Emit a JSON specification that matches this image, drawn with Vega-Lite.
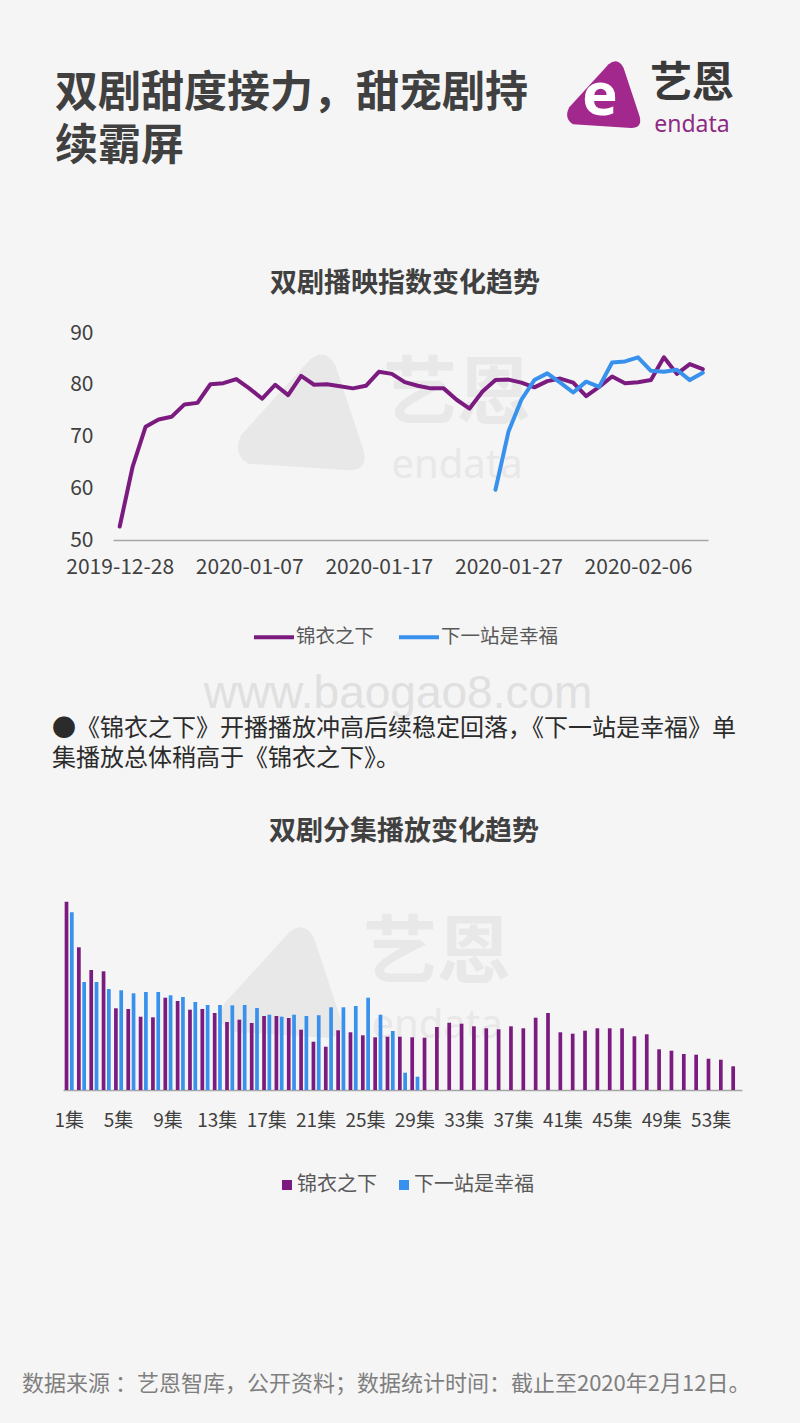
{
  "$schema": "https://vega.github.io/schema/vega-lite/v6.json",
  "background": "#f5f5f5",
  "padding": 0,
  "spacing": 0,
  "bounds": "flush",
  "center": true,
  "resolve": {"scale": {"color": "independent"}, "legend": {"color": "independent"}},
  "config": {
    "font": "Noto Sans CJK SC",
    "view": {"stroke": null},
    "axis": {"grid": false},
    "title": {"color": "#404040"}
  },
  "datasets": {
    "lines": [
      {"date": "2019-12-28", "series": "锦衣之下", "index": 52.6},
      {"date": "2019-12-29", "series": "锦衣之下", "index": 64.2},
      {"date": "2019-12-30", "series": "锦衣之下", "index": 71.9},
      {"date": "2019-12-31", "series": "锦衣之下", "index": 73.3},
      {"date": "2020-01-01", "series": "锦衣之下", "index": 73.8},
      {"date": "2020-01-02", "series": "锦衣之下", "index": 76.2},
      {"date": "2020-01-03", "series": "锦衣之下", "index": 76.5},
      {"date": "2020-01-04", "series": "锦衣之下", "index": 80.1},
      {"date": "2020-01-05", "series": "锦衣之下", "index": 80.3},
      {"date": "2020-01-06", "series": "锦衣之下", "index": 81.1},
      {"date": "2020-01-07", "series": "锦衣之下", "index": 79.3},
      {"date": "2020-01-08", "series": "锦衣之下", "index": 77.3},
      {"date": "2020-01-09", "series": "锦衣之下", "index": 80.0},
      {"date": "2020-01-10", "series": "锦衣之下", "index": 78.0},
      {"date": "2020-01-11", "series": "锦衣之下", "index": 81.7},
      {"date": "2020-01-12", "series": "锦衣之下", "index": 80.0},
      {"date": "2020-01-13", "series": "锦衣之下", "index": 80.1},
      {"date": "2020-01-14", "series": "锦衣之下", "index": 79.7},
      {"date": "2020-01-15", "series": "锦衣之下", "index": 79.3},
      {"date": "2020-01-16", "series": "锦衣之下", "index": 79.8},
      {"date": "2020-01-17", "series": "锦衣之下", "index": 82.5},
      {"date": "2020-01-18", "series": "锦衣之下", "index": 82.1},
      {"date": "2020-01-19", "series": "锦衣之下", "index": 80.5},
      {"date": "2020-01-20", "series": "锦衣之下", "index": 79.8},
      {"date": "2020-01-21", "series": "锦衣之下", "index": 79.3},
      {"date": "2020-01-22", "series": "锦衣之下", "index": 79.3},
      {"date": "2020-01-23", "series": "锦衣之下", "index": 77.1},
      {"date": "2020-01-24", "series": "锦衣之下", "index": 75.4},
      {"date": "2020-01-25", "series": "锦衣之下", "index": 78.7},
      {"date": "2020-01-26", "series": "锦衣之下", "index": 80.9},
      {"date": "2020-01-27", "series": "锦衣之下", "index": 81.0},
      {"date": "2020-01-28", "series": "锦衣之下", "index": 80.4},
      {"date": "2020-01-29", "series": "锦衣之下", "index": 79.5},
      {"date": "2020-01-30", "series": "锦衣之下", "index": 80.7},
      {"date": "2020-01-31", "series": "锦衣之下", "index": 81.2},
      {"date": "2020-02-01", "series": "锦衣之下", "index": 80.4},
      {"date": "2020-02-02", "series": "锦衣之下", "index": 77.8},
      {"date": "2020-02-03", "series": "锦衣之下", "index": 79.6},
      {"date": "2020-02-04", "series": "锦衣之下", "index": 81.6},
      {"date": "2020-02-05", "series": "锦衣之下", "index": 80.3},
      {"date": "2020-02-06", "series": "锦衣之下", "index": 80.5},
      {"date": "2020-02-07", "series": "锦衣之下", "index": 80.9},
      {"date": "2020-02-08", "series": "锦衣之下", "index": 85.3},
      {"date": "2020-02-09", "series": "锦衣之下", "index": 82.1},
      {"date": "2020-02-10", "series": "锦衣之下", "index": 84.0},
      {"date": "2020-02-11", "series": "锦衣之下", "index": 83.0},
      {"date": "2020-01-26", "series": "下一站是幸福", "index": 59.7},
      {"date": "2020-01-27", "series": "下一站是幸福", "index": 70.9},
      {"date": "2020-01-28", "series": "下一站是幸福", "index": 77.1},
      {"date": "2020-01-29", "series": "下一站是幸福", "index": 80.9},
      {"date": "2020-01-30", "series": "下一站是幸福", "index": 82.2},
      {"date": "2020-01-31", "series": "下一站是幸福", "index": 80.4},
      {"date": "2020-02-01", "series": "下一站是幸福", "index": 78.5},
      {"date": "2020-02-02", "series": "下一站是幸福", "index": 80.6},
      {"date": "2020-02-03", "series": "下一站是幸福", "index": 79.6},
      {"date": "2020-02-04", "series": "下一站是幸福", "index": 84.3},
      {"date": "2020-02-05", "series": "下一站是幸福", "index": 84.5},
      {"date": "2020-02-06", "series": "下一站是幸福", "index": 85.3},
      {"date": "2020-02-07", "series": "下一站是幸福", "index": 82.7},
      {"date": "2020-02-08", "series": "下一站是幸福", "index": 82.5},
      {"date": "2020-02-09", "series": "下一站是幸福", "index": 82.9},
      {"date": "2020-02-10", "series": "下一站是幸福", "index": 80.9},
      {"date": "2020-02-11", "series": "下一站是幸福", "index": 82.3}
    ],
    "bars": [
      {"episode": "1集", "series": "锦衣之下", "plays": 188.3},
      {"episode": "1集", "series": "下一站是幸福", "plays": 177.7},
      {"episode": "2集", "series": "锦衣之下", "plays": 142.7},
      {"episode": "2集", "series": "下一站是幸福", "plays": 108},
      {"episode": "3集", "series": "锦衣之下", "plays": 120},
      {"episode": "3集", "series": "下一站是幸福", "plays": 108},
      {"episode": "4集", "series": "锦衣之下", "plays": 118.7},
      {"episode": "4集", "series": "下一站是幸福", "plays": 101},
      {"episode": "5集", "series": "锦衣之下", "plays": 81.7},
      {"episode": "5集", "series": "下一站是幸福", "plays": 99.7},
      {"episode": "6集", "series": "锦衣之下", "plays": 81},
      {"episode": "6集", "series": "下一站是幸福", "plays": 96.7},
      {"episode": "7集", "series": "锦衣之下", "plays": 73.3},
      {"episode": "7集", "series": "下一站是幸福", "plays": 98},
      {"episode": "8集", "series": "锦衣之下", "plays": 72.7},
      {"episode": "8集", "series": "下一站是幸福", "plays": 98},
      {"episode": "9集", "series": "锦衣之下", "plays": 92.3},
      {"episode": "9集", "series": "下一站是幸福", "plays": 94.7},
      {"episode": "10集", "series": "锦衣之下", "plays": 89},
      {"episode": "10集", "series": "下一站是幸福", "plays": 93},
      {"episode": "11集", "series": "锦衣之下", "plays": 80.3},
      {"episode": "11集", "series": "下一站是幸福", "plays": 88},
      {"episode": "12集", "series": "锦衣之下", "plays": 81},
      {"episode": "12集", "series": "下一站是幸福", "plays": 85},
      {"episode": "13集", "series": "锦衣之下", "plays": 77},
      {"episode": "13集", "series": "下一站是幸福", "plays": 85},
      {"episode": "14集", "series": "锦衣之下", "plays": 68},
      {"episode": "14集", "series": "下一站是幸福", "plays": 84.7},
      {"episode": "15集", "series": "锦衣之下", "plays": 70.3},
      {"episode": "15集", "series": "下一站是幸福", "plays": 85},
      {"episode": "16集", "series": "锦衣之下", "plays": 67},
      {"episode": "16集", "series": "下一站是幸福", "plays": 82},
      {"episode": "17集", "series": "锦衣之下", "plays": 74},
      {"episode": "17集", "series": "下一站是幸福", "plays": 75.3},
      {"episode": "18集", "series": "锦衣之下", "plays": 74},
      {"episode": "18集", "series": "下一站是幸福", "plays": 73.3},
      {"episode": "19集", "series": "锦衣之下", "plays": 72},
      {"episode": "19集", "series": "下一站是幸福", "plays": 75.3},
      {"episode": "20集", "series": "锦衣之下", "plays": 60.3},
      {"episode": "20集", "series": "下一站是幸福", "plays": 74},
      {"episode": "21集", "series": "锦衣之下", "plays": 48.3},
      {"episode": "21集", "series": "下一站是幸福", "plays": 74.7},
      {"episode": "22集", "series": "锦衣之下", "plays": 43.3},
      {"episode": "22集", "series": "下一站是幸福", "plays": 82.7},
      {"episode": "23集", "series": "锦衣之下", "plays": 59.7},
      {"episode": "23集", "series": "下一站是幸福", "plays": 82.7},
      {"episode": "24集", "series": "锦衣之下", "plays": 57.7},
      {"episode": "24集", "series": "下一站是幸福", "plays": 84},
      {"episode": "25集", "series": "锦衣之下", "plays": 54.7},
      {"episode": "25集", "series": "下一站是幸福", "plays": 92.3},
      {"episode": "26集", "series": "锦衣之下", "plays": 52.7},
      {"episode": "26集", "series": "下一站是幸福", "plays": 75.3},
      {"episode": "27集", "series": "锦衣之下", "plays": 53.3},
      {"episode": "27集", "series": "下一站是幸福", "plays": 59},
      {"episode": "28集", "series": "锦衣之下", "plays": 53.3},
      {"episode": "28集", "series": "下一站是幸福", "plays": 17.3},
      {"episode": "29集", "series": "锦衣之下", "plays": 52.7},
      {"episode": "29集", "series": "下一站是幸福", "plays": 13.3},
      {"episode": "30集", "series": "锦衣之下", "plays": 52.3},
      {"episode": "31集", "series": "锦衣之下", "plays": 63},
      {"episode": "32集", "series": "锦衣之下", "plays": 67.3},
      {"episode": "33集", "series": "锦衣之下", "plays": 66.3},
      {"episode": "34集", "series": "锦衣之下", "plays": 63.7},
      {"episode": "35集", "series": "锦衣之下", "plays": 61.7},
      {"episode": "36集", "series": "锦衣之下", "plays": 60.7},
      {"episode": "37集", "series": "锦衣之下", "plays": 63.7},
      {"episode": "38集", "series": "锦衣之下", "plays": 61.7},
      {"episode": "39集", "series": "锦衣之下", "plays": 72.3},
      {"episode": "40集", "series": "锦衣之下", "plays": 77},
      {"episode": "41集", "series": "锦衣之下", "plays": 57.7},
      {"episode": "42集", "series": "锦衣之下", "plays": 56.3},
      {"episode": "43集", "series": "锦衣之下", "plays": 59.3},
      {"episode": "44集", "series": "锦衣之下", "plays": 61.7},
      {"episode": "45集", "series": "锦衣之下", "plays": 61.7},
      {"episode": "46集", "series": "锦衣之下", "plays": 61.7},
      {"episode": "47集", "series": "锦衣之下", "plays": 53.7},
      {"episode": "48集", "series": "锦衣之下", "plays": 55.7},
      {"episode": "49集", "series": "锦衣之下", "plays": 40.7},
      {"episode": "50集", "series": "锦衣之下", "plays": 39.3},
      {"episode": "51集", "series": "锦衣之下", "plays": 36},
      {"episode": "52集", "series": "锦衣之下", "plays": 35.3},
      {"episode": "53集", "series": "锦衣之下", "plays": 31.3},
      {"episode": "54集", "series": "锦衣之下", "plays": 30.3},
      {"episode": "55集", "series": "锦衣之下", "plays": 23.7}
    ]
  },
  "vconcat": [
    {
      "width": 800,
      "height": 333,
      "title": {"text": ["双剧甜度接力，甜宠剧持", "续霸屏"], "orient": "top", "anchor": "start", "frame": "group", "dx": 55, "offset": -169, "fontSize": 43, "fontWeight": "bold", "lineHeight": 53, "color": "#404040"},
      "layer": [
        {"data": {"values": [{"brand": "endata"}]}, "mark": {"type": "point", "shape": "M 4.613 -1.13 Q 4.363 -1.28 4.513 -1.58 L 5.563 -2.73 Q 5.813 -2.93 5.963 -2.63 L 6.393 -1.33 Q 6.463 -1.03 6.163 -1.03 Z", "size": 5625, "filled": true, "color": "#a3288e", "opacity": 1, "strokeWidth": 0}, "encoding": {}},
        {"data": {"values": [{"brand": "endata"}]}, "mark": {"type": "text", "text": "e", "font": "Noto Sans", "fontWeight": "bold", "fontSize": 60, "color": "#ffffff", "dx": 200, "dy": -70, "baseline": "middle", "align": "center"}, "encoding": {}},
        {"data": {"values": [{"brand": "endata"}]}, "mark": {"type": "text", "text": "艺恩", "fontSize": 42, "fontWeight": "bold", "color": "#3a3a3a", "dx": 292, "dy": -83, "baseline": "middle", "align": "center"}, "encoding": {}},
        {"data": {"values": [{"brand": "endata"}]}, "mark": {"type": "text", "text": "endata", "font": "Noto Sans", "fontSize": 23, "color": "#8e2a84", "dx": 292, "dy": -35, "baseline": "alphabetic", "align": "center"}, "encoding": {}}
      ]
    },
    {
      "width": 574,
      "height": 207,
      "title": {"text": "双剧播映指数变化趋势", "fontSize": 27, "fontWeight": "bold", "color": "#404040", "anchor": "middle", "frame": "group", "offset": 24, "dx": 5},
      "layer": [
        {"data": {"values": [{"brand": "endata"}]}, "mark": {"type": "point", "shape": "M -2.338 0.419 Q -2.588 0.269 -2.438 -0.031 L -1.388 -1.181 Q -1.138 -1.381 -0.988 -1.081 L -0.558 0.219 Q -0.488 0.519 -0.788 0.519 Z", "size": 16900, "filled": true, "color": "#e8e8e8", "opacity": 1, "strokeWidth": 0}, "encoding": {}},
        {"data": {"values": [{"brand": "endata"}]}, "mark": {"type": "text", "text": "艺恩", "fontSize": 74, "fontWeight": "bold", "color": "#e8e8e8", "dx": 57, "dy": -41, "baseline": "middle", "align": "center"}, "encoding": {}},
        {"data": {"values": [{"brand": "endata"}]}, "mark": {"type": "text", "text": "endata", "font": "Noto Sans", "fontSize": 40, "color": "#e8e8e8", "dx": 57, "dy": 41, "baseline": "alphabetic", "align": "center"}, "encoding": {}},
        {
          "data": {"name": "lines"},
          "mark": {"type": "line", "strokeWidth": 4, "strokeJoin": "round", "strokeCap": "round"},
          "encoding": {
            "x": {
              "field": "date", "type": "temporal",
              "scale": {"type": "utc", "domain": [{"year": 2019, "month": 12, "date": 27, "hours": 11, "minutes": 35, "utc": true}, {"year": 2020, "month": 2, "date": 11, "hours": 9, "minutes": 40, "utc": true}], "range": [0, 595]},
              "axis": {"title": null, "values": [{"year": 2019, "month": 12, "date": 28, "utc": true}, {"year": 2020, "month": 1, "date": 7, "utc": true}, {"year": 2020, "month": 1, "date": 17, "utc": true}, {"year": 2020, "month": 1, "date": 27, "utc": true}, {"year": 2020, "month": 2, "date": 6, "utc": true}], "labelExpr": "utcFormat(datum.value, '%Y-%m-%d')", "ticks": false, "tickSize": 0, "labelPadding": 16, "labelFontSize": 21, "labelColor": "#404040", "labelFlush": false, "labelOverlap": false, "domainColor": "#a6a6a6", "domainWidth": 1.5}
            },
            "y": {
              "field": "index", "type": "quantitative",
              "scale": {"domain": [50, 90], "nice": false, "zero": false},
              "axis": {"title": null, "values": [50, 60, 70, 80, 90], "domain": false, "ticks": false, "tickSize": 0, "labelPadding": 20, "labelFontSize": 21, "labelColor": "#404040"}
            },
            "color": {
              "field": "series", "type": "nominal",
              "scale": {"domain": ["锦衣之下", "下一站是幸福"], "range": ["#7b1b80", "#3891ec"]},
              "legend": {"title": null, "orient": "none", "legendX": 139, "legendY": 282, "direction": "horizontal", "symbolType": "stroke", "symbolSize": 1600, "symbolStrokeWidth": 4, "labelFontSize": 19.5, "labelColor": "#595959", "labelOffset": 0, "columnPadding": 16, "padding": 0, "labelLimit": 300}
            }
          }
        }
      ]
    },
    {
      "width": 800,
      "height": 165,
      "data": {"values": []},
      "mark": "point",
      "title": {"text": "www.baogao8.com", "orient": "bottom", "anchor": "middle", "frame": "group", "offset": -33, "dx": -2, "font": "Liberation Sans", "fontSize": 46, "fontWeight": "normal", "color": "#e0e0e0"}
    },
    {
      "width": 800,
      "height": 195,
      "data": {"values": []},
      "mark": "point",
      "title": {"text": ["●《锦衣之下》开播播放冲高后续稳定回落，《下一站是幸福》单", "　集播放总体稍高于《锦衣之下》。"], "orient": "top", "anchor": "start", "frame": "group", "offset": -66, "dx": 52, "fontSize": 24, "fontWeight": "normal", "lineHeight": 30, "color": "#2b2b2b"}
    },
    {
      "width": 674,
      "height": 190,
      "title": {"text": "双剧分集播放变化趋势", "fontSize": 27, "fontWeight": "bold", "color": "#404040", "anchor": "middle", "frame": "group", "offset": 54, "dx": 4},
      "layer": [
        {"data": {"values": [{"brand": "endata"}]}, "mark": {"type": "point", "shape": "M -2.735 0.589 Q -2.985 0.439 -2.835 0.139 L -1.785 -1.011 Q -1.535 -1.211 -1.385 -0.911 L -0.955 0.389 Q -0.885 0.689 -1.185 0.689 Z", "size": 15376, "filled": true, "color": "#e8e8e8", "opacity": 1, "strokeWidth": 0}, "encoding": {}},
        {"data": {"values": [{"brand": "endata"}]}, "mark": {"type": "text", "text": "艺恩", "fontSize": 74, "fontWeight": "bold", "color": "#e8e8e8", "dx": 37, "dy": -40, "baseline": "middle", "align": "center"}, "encoding": {}},
        {"data": {"values": [{"brand": "endata"}]}, "mark": {"type": "text", "text": "endata", "font": "Noto Sans", "fontSize": 40, "color": "#e8e8e8", "dx": 37, "dy": 43, "baseline": "alphabetic", "align": "center"}, "encoding": {}},
        {
          "data": {"name": "bars"},
          "mark": {"type": "bar"},
          "encoding": {
            "x": {
              "field": "episode", "type": "nominal", "sort": null,
              "scale": {"range": [0, 679], "paddingInner": 0.27, "paddingOuter": 0.135},
              "axis": {"title": null, "values": ["1集", "5集", "9集", "13集", "17集", "21集", "25集", "29集", "33集", "37集", "41集", "45集", "49集", "53集"], "labelAngle": 0, "ticks": false, "tickSize": 0, "labelPadding": 21, "labelFontSize": 19, "labelColor": "#404040", "domainColor": "#a6a6a6", "domainWidth": 1.5}
            },
            "xOffset": {"field": "series", "type": "nominal", "sort": ["锦衣之下", "下一站是幸福"], "scale": {"paddingInner": 0.3}},
            "y": {"field": "plays", "type": "quantitative", "scale": {"domain": [0, 190]}, "axis": null},
            "color": {
              "field": "series", "type": "nominal",
              "scale": {"domain": ["锦衣之下", "下一站是幸福"], "range": ["#7b1b80", "#3891ec"]},
              "legend": {"title": null, "orient": "none", "legendX": 214, "legendY": 275, "direction": "horizontal", "symbolType": "square", "symbolSize": 100, "symbolStrokeWidth": 0, "labelFontSize": 20, "labelColor": "#595959", "labelOffset": 0, "columnPadding": 17, "padding": 0, "labelLimit": 300}
            }
          }
        }
      ]
    },
    {
      "width": 800,
      "height": 333,
      "data": {"values": []},
      "mark": "point",
      "title": {"text": "数据来源 ：艺恩智库，公开资料；数据统计时间：截止至2020年2月12日。", "orient": "bottom", "anchor": "start", "frame": "group", "offset": -49, "dx": 22, "fontSize": 22, "fontWeight": "normal", "color": "#7f7f7f"}
    }
  ]
}
